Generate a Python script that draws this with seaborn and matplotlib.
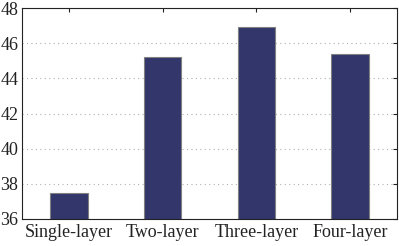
import matplotlib
matplotlib.use("Agg")
import matplotlib.pyplot as plt
import seaborn as sns
import pandas as pd

categories = ["Single-layer", "Two-layer", "Three-layer", "Four-layer"]
values = [37.48, 45.19, 46.92, 45.41]
yticks = [36, 38, 40, 42, 44, 46, 48]

sns.set_style("white")
plt.rcParams['font.family'] = ['Liberation Serif', 'DejaVu Serif']

df = pd.DataFrame({"cat": categories, "val": values})
fig = plt.figure(figsize=(3.99, 2.46), dpi=100)
ax = fig.add_axes([0.055, 0.11, 0.94, 0.857])
sns.barplot(data=df, x="cat", y="val", color="#32366a", saturation=1, width=0.4,
            edgecolor="#808080", linewidth=0.8, ax=ax)
ax.set_ylim(36, 48)
ax.set_xlim(-0.5, 3.5)
ax.set_yticks(yticks)
ax.set_xlabel("")
ax.set_ylabel("")
ax.yaxis.grid(True, linestyle=(0, (1, 3)), color="#b0b0b0", linewidth=0.8)
ax.set_axisbelow(True)
ax.tick_params(direction="in", length=3, top=True, right=True, labelsize=13,
               colors="#222222", pad=4, width=0.8)
ax.tick_params(axis="y", pad=2.5)
for s in ax.spines.values():
    s.set_visible(True)
    s.set_color("#222222")
    s.set_linewidth(0.8)
fig.savefig("out.png", dpi=100)
